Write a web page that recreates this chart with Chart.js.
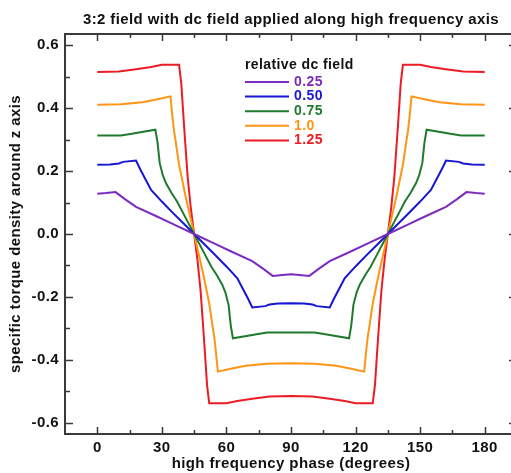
<!DOCTYPE html>
<html>
<head>
<meta charset="utf-8">
<title>3:2 field with dc field</title>
<script src="https://cdn.jsdelivr.net/npm/chart.js@4.4.0/dist/chart.umd.min.js"></script>
<style>
  html, body { margin: 0; padding: 0; background: #fff; overflow: hidden; }
  #wrap { width: 511px; height: 473px; overflow: hidden; }
</style>
</head>
<body>
<div id="wrap"><canvas id="torqueChart" width="518" height="473"></canvas></div>
<script>
// Series: phase (degrees) and specific torque density, one pair per dc field
const fieldLabels = ['0.25', '0.50', '0.75', '1.0', '1.25'];
const fieldColors = ['#7b2cbf', '#1616d4', '#1f7a2e', '#ff9514', '#ec1c24'];

const phase025 = [0, 4, 8.5, 13, 18, 27, 36, 45, 54, 63, 72, 77, 81.5, 86, 90, 94, 98.5, 103, 108, 117, 126, 135, 144, 153, 162, 167, 171.5, 176, 180];
const torque025 = [0.128, 0.130, 0.133, 0.110, 0.086, 0.058, 0.029, 0, -0.029, -0.058, -0.086, -0.110, -0.133, -0.130, -0.128, -0.130, -0.133, -0.110, -0.086, -0.058, -0.029, 0, 0.029, 0.058, 0.086, 0.110, 0.133, 0.130, 0.128];

const phase050 = [0, 6, 10, 12, 18, 20, 22.5, 25, 30, 35, 40, 45, 50, 55, 60, 65, 67.5, 70, 72, 78, 80, 84, 90, 96, 100, 102, 108, 110, 112.5, 115, 120, 125, 130, 135, 140, 145, 150, 155, 157.5, 160, 162, 168, 170, 174, 180];
const torque050 = [0.220, 0.221, 0.224, 0.229, 0.233, 0.205, 0.172, 0.140, 0.103, 0.068, 0.034, 0, -0.034, -0.068, -0.103, -0.140, -0.172, -0.205, -0.233, -0.229, -0.224, -0.221, -0.220, -0.221, -0.224, -0.229, -0.233, -0.205, -0.172, -0.140, -0.103, -0.068, -0.034, 0, 0.034, 0.068, 0.103, 0.140, 0.172, 0.205, 0.233, 0.229, 0.224, 0.221, 0.220];

const phase075 = [0, 11, 16, 20, 27, 28, 29, 30.5, 32, 34.5, 37, 41, 45, 49, 53, 55.5, 58, 59.5, 61, 62, 63, 70, 74, 79, 90, 101, 106, 110, 117, 118, 119, 120.5, 122, 124.5, 127, 131, 135, 139, 143, 145.5, 148, 149.5, 151, 152, 153, 160, 164, 169, 180];
const torque075 = [0.313, 0.313, 0.318, 0.323, 0.331, 0.290, 0.225, 0.185, 0.160, 0.130, 0.104, 0.052, 0, -0.052, -0.104, -0.130, -0.160, -0.185, -0.225, -0.290, -0.331, -0.323, -0.318, -0.313, -0.313, -0.313, -0.318, -0.323, -0.331, -0.290, -0.225, -0.185, -0.160, -0.130, -0.104, -0.052, 0, 0.052, 0.104, 0.130, 0.160, 0.185, 0.225, 0.290, 0.331, 0.323, 0.318, 0.313, 0.313];

const phase100 = [0, 11, 21, 28, 34, 34.8, 35.6, 36.5, 38, 39.5, 41, 43, 45, 47, 49, 50.5, 52, 53.5, 54.4, 55.2, 56, 62, 69, 79, 90, 101, 111, 118, 124, 124.8, 125.6, 126.5, 128, 129.5, 131, 133, 135, 137, 139, 140.5, 142, 143.5, 144.4, 145.2, 146, 152, 159, 169, 180];
const torque100 = [0.410, 0.412, 0.418, 0.428, 0.437, 0.380, 0.330, 0.290, 0.220, 0.170, 0.120, 0.060, 0, -0.060, -0.120, -0.170, -0.220, -0.290, -0.330, -0.380, -0.437, -0.428, -0.418, -0.412, -0.410, -0.412, -0.418, -0.428, -0.437, -0.380, -0.330, -0.290, -0.220, -0.170, -0.120, -0.060, 0, 0.060, 0.120, 0.170, 0.220, 0.290, 0.330, 0.380, 0.437, 0.428, 0.418, 0.412, 0.410];

const phase125 = [0, 10, 18, 25, 30, 38, 39, 40.4, 42, 43.5, 45, 46.5, 48, 49.6, 51, 52, 60, 65, 72, 80, 90, 100, 108, 115, 120, 128, 129, 130.4, 132, 133.5, 135, 136.5, 138, 139.6, 141, 142, 150, 155, 162, 170, 180];
const torque125 = [0.514, 0.516, 0.523, 0.530, 0.537, 0.537, 0.480, 0.335, 0.180, 0.080, 0, -0.080, -0.180, -0.335, -0.480, -0.537, -0.537, -0.530, -0.523, -0.516, -0.514, -0.516, -0.523, -0.530, -0.537, -0.537, -0.480, -0.335, -0.180, -0.080, 0, 0.080, 0.180, 0.335, 0.480, 0.537, 0.537, 0.530, 0.523, 0.516, 0.514];

// Tick positions on the frame (labelled and unlabelled)
const phaseTicks = [0, 30, 60, 90, 120, 150, 180];
const phaseMinorTicks = [15, 45, 75, 105, 135, 165];
const torqueTicks = [-0.6, -0.4, -0.2, 0, 0.2, 0.4, 0.6];
const torqueMinorTicks = [-0.5, -0.3, -0.1, 0.1, 0.3, 0.5];

const phases = [phase025, phase050, phase075, phase100, phase125];
const torques = [torque025, torque050, torque075, torque100, torque125];

const fontFamily = '"Liberation Sans", Arial, sans-serif';
const boldFont = size => ({ family: fontFamily, size: size, weight: 'bold' });
const frameColor = '#3a3a3a';

// The original lettering is a little wider than Arial, so space the letters out a bit.
// Set it again before layout and before drawing, since resizing the canvas resets the context.
const wideLetters = {
  id: 'wideLetters',
  beforeUpdate(chart) { chart.ctx.letterSpacing = '0.4px'; },
  beforeDraw(chart) { chart.ctx.letterSpacing = '0.4px'; }
};

// Closed frame with inward ticks on all four sides, like the original plot
const frameTicks = {
  id: 'frameTicks',
  afterDatasetsDraw(chart) {
    const { ctx, chartArea: a, scales: { x, y } } = chart;
    ctx.save();
    ctx.strokeStyle = frameColor;
    ctx.lineWidth = 2;
    ctx.strokeRect(a.left, a.top, a.right - a.left, a.bottom - a.top);
    ctx.lineWidth = 1.5;
    ctx.beginPath();
    const xMark = (v, len) => {
      const px = Math.round(x.getPixelForValue(v)) + 0.5;
      ctx.moveTo(px, a.bottom); ctx.lineTo(px, a.bottom - len);
      ctx.moveTo(px, a.top); ctx.lineTo(px, a.top + len);
    };
    const yMark = (v, len) => {
      const py = Math.round(y.getPixelForValue(v)) + 0.5;
      ctx.moveTo(a.left, py); ctx.lineTo(a.left + len, py);
      ctx.moveTo(a.right, py); ctx.lineTo(a.right - len, py);
    };
    phaseTicks.forEach(v => xMark(v, 7));
    phaseMinorTicks.forEach(v => xMark(v, 4));
    torqueTicks.forEach(v => yMark(v, 8));
    torqueMinorTicks.forEach(v => yMark(v, 5));
    ctx.stroke();
    ctx.restore();
  }
};

// Title centred over the plot area and the in-plot legend with coloured labels
const titleAndLegend = {
  id: 'titleAndLegend',
  afterDraw(chart) {
    const { ctx, chartArea: a } = chart;
    ctx.save();
    ctx.letterSpacing = '0.4px';
    ctx.fillStyle = '#111';
    ctx.textBaseline = 'middle';
    ctx.textAlign = 'center';
    ctx.font = 'bold 15px ' + fontFamily;
    ctx.fillText('3:2 field with dc field applied along high frequency axis', (a.left + a.right) / 2, 20);

    const lx = a.left + 180;
    ctx.textAlign = 'left';
    ctx.font = 'bold 14px ' + fontFamily;
    ctx.fillText('relative dc field', lx, a.top + 31);
    chart.data.datasets.forEach((ds, i) => {
      const ly = a.top + 48 + i * 14.6;
      ctx.strokeStyle = ds.borderColor;
      ctx.lineWidth = 2;
      ctx.beginPath();
      ctx.moveTo(lx, ly); ctx.lineTo(lx + 44, ly);
      ctx.stroke();
      ctx.fillStyle = ds.borderColor;
      ctx.fillText(ds.label, lx + 49, ly);
    });
    ctx.restore();
  }
};

const ctx = document.getElementById('torqueChart').getContext('2d');

const chart = new Chart(ctx, {
  type: 'line',
  data: {
    datasets: fieldLabels.map((label, i) => ({
      label: label,
      data: phases[i].map((p, k) => ({ x: p, y: torques[i][k] })),
      borderColor: fieldColors[i],
      borderWidth: 2,
      pointRadius: 0,
      tension: 0,
      fill: false
    }))
  },
  options: {
    responsive: false,
    animation: false,
    devicePixelRatio: 1,
    layout: { padding: { top: 34, right: 1, left: 0, bottom: 0 } },
    plugins: {
      legend: { display: false },
      tooltip: { enabled: false },
      title: { display: false }
    },
    scales: {
      x: {
        type: 'linear',
        min: -15,
        max: 195,
        afterBuildTicks: scale => { scale.ticks = phaseTicks.map(v => ({ value: v })); },
        afterFit: scale => { scale.height = 39; },
        grid: { display: false, drawTicks: false },
        border: { display: false },
        ticks: {
          autoSkip: false,
          maxRotation: 0,
          padding: 5,
          color: '#111',
          font: boldFont(15),
          callback: v => String(v)
        },
        title: {
          display: true,
          text: 'high frequency phase (degrees)',
          color: '#111',
          font: boldFont(15),
          padding: { top: 0, bottom: 0 }
        }
      },
      y: {
        min: -0.635,
        max: 0.635,
        afterBuildTicks: scale => { scale.ticks = torqueTicks.map(v => ({ value: v })); },
        afterFit: scale => { scale.width = 65; },
        grid: { display: false, drawTicks: false },
        border: { display: false },
        ticks: {
          padding: 6,
          color: '#111',
          font: boldFont(15),
          callback: v => Math.abs(v) < 1e-9 ? '0.0' : v.toFixed(1)
        },
        title: {
          display: true,
          text: 'specific torque density around z axis',
          color: '#111',
          font: boldFont(15),
          padding: { top: 7, bottom: 0 }
        }
      }
    }
  },
  plugins: [wideLetters, frameTicks, titleAndLegend]
});
</script>
</body>
</html>
